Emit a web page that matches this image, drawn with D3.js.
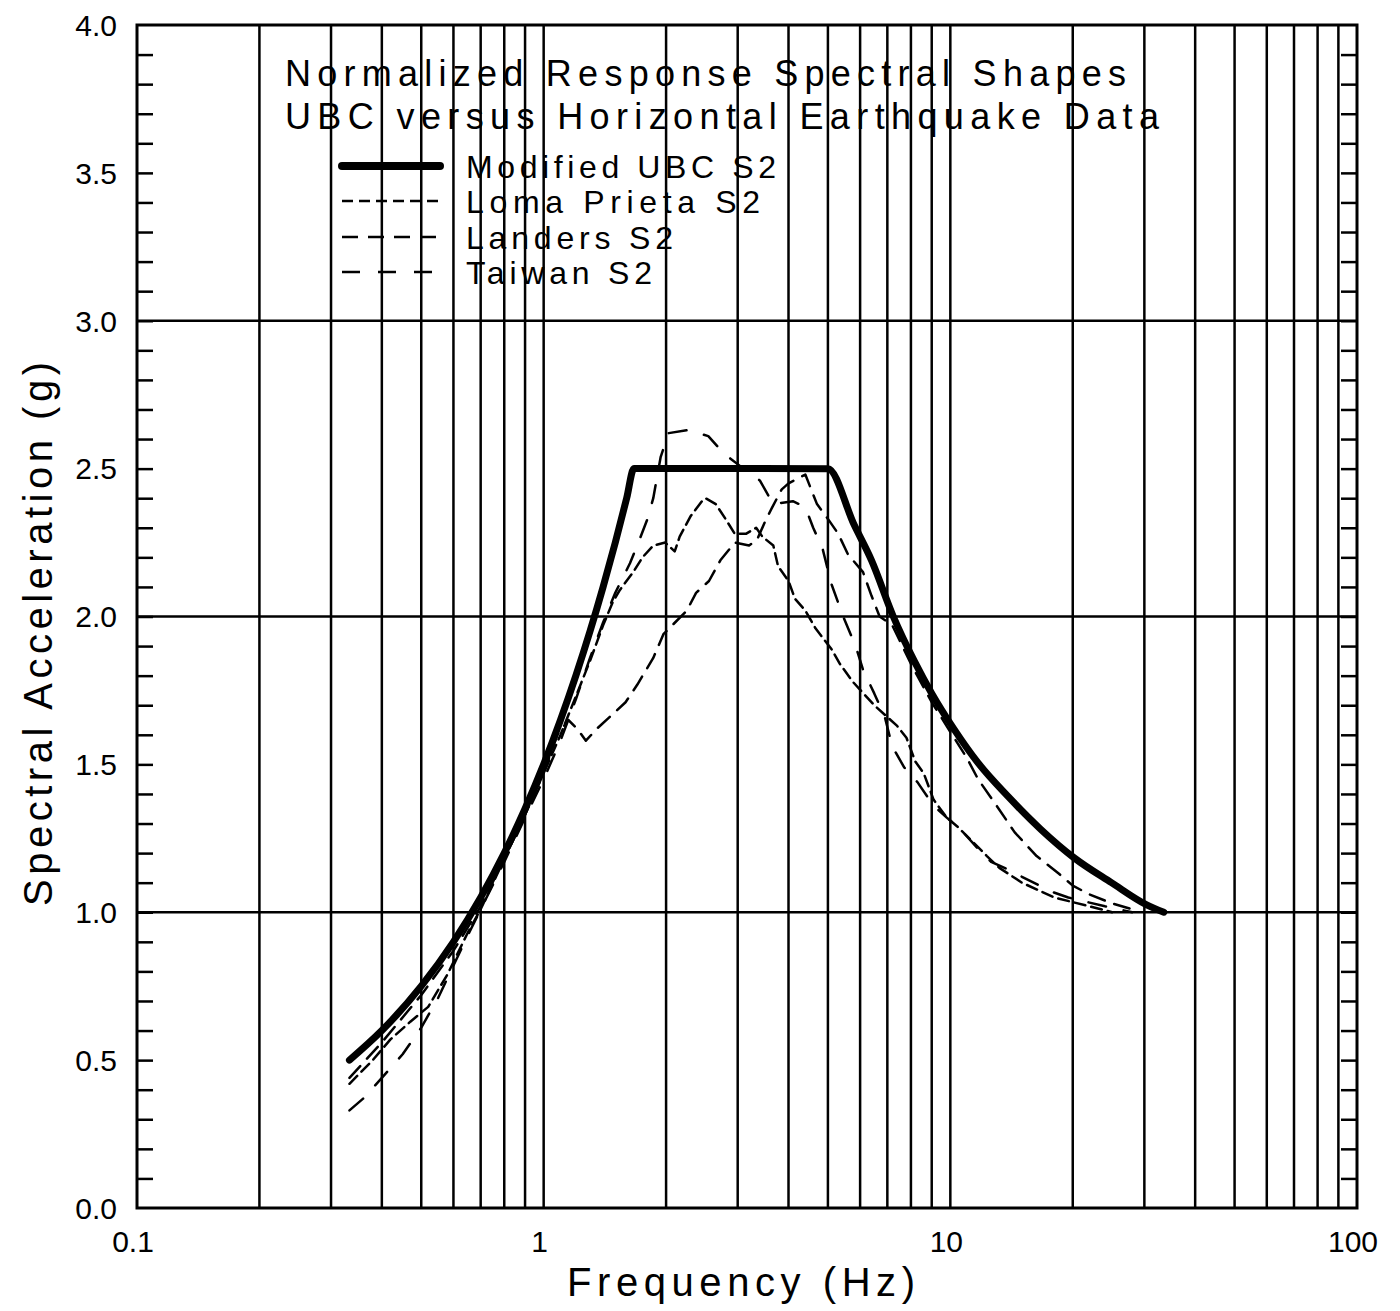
<!DOCTYPE html>
<html>
<head>
<meta charset="utf-8">
<script src="https://cdn.jsdelivr.net/npm/d3@7"></script>
<style>
  body { margin: 0; background: #fff; }
  text { font-family: "Liberation Sans", "DejaVu Sans", sans-serif; fill: #000; }
</style>
</head>
<body>
<div id="chart"></div>
<script>
//Chart data: [frequency (Hz), spectral acceleration (g)]
var ubc = [[0.333,0.5],[0.4,0.6],[0.5,0.75],[0.6,0.9],[0.7,1.05],[0.8,1.2],[0.9,1.35],[1.0,1.5],
  [1.1,1.65],[1.2,1.8],[1.3,1.95],[1.4,2.1],[1.5,2.25],[1.6,2.4],[1.667,2.5],[5.0,2.5],[5.8,2.31],
  [6.4,2.19],[7.24,2.0],[8.15,1.85],[9.0,1.74],[10.2,1.62],[11.7,1.505],[13.9,1.39],[16.7,1.28],
  [20.2,1.183],[24.9,1.1],[30.4,1.025],[33.5,1.0]];

var lomaPrieta = [[0.333,0.42],[0.38,0.5],[0.42,0.57],[0.47,0.63],[0.52,0.68],[0.58,0.79],[0.65,0.93],
  [0.7,1.01],[0.8,1.18],[0.9,1.33],[1.0,1.47],[1.1,1.6],[1.2,1.73],[1.3,1.85],[1.4,1.97],[1.48,2.05],
  [1.54,2.09],[1.66,2.15],[1.75,2.2],[1.86,2.24],[1.99,2.25],[2.1,2.22],[2.16,2.27],[2.3,2.34],
  [2.45,2.39],[2.5,2.4],[2.65,2.38],[2.8,2.33],[2.95,2.28],[3.15,2.28],[3.33,2.3],[3.45,2.27],
  [3.67,2.24],[3.77,2.17],[4.0,2.12],[4.15,2.06],[4.4,2.02],[4.66,1.96],[5.1,1.89],[5.35,1.84],
  [5.75,1.78],[6.5,1.7],[7.4,1.63],[7.8,1.59],[8.2,1.51],[8.6,1.47],[9.1,1.38],[9.8,1.32],
  [10.4,1.29],[11.7,1.22],[12.3,1.19],[13.2,1.15],[15.0,1.1],[18.0,1.05],[22.0,1.02],[25.0,1.0]];

var landers = [[0.333,0.44],[0.4,0.56],[0.5,0.72],[0.6,0.87],[0.7,1.02],[0.8,1.18],[0.9,1.33],
  [1.0,1.47],[1.08,1.6],[1.15,1.65],[1.21,1.62],[1.27,1.58],[1.35,1.62],[1.48,1.67],[1.59,1.71],
  [1.7,1.77],[1.86,1.86],[1.97,1.94],[2.07,1.97],[2.25,2.02],[2.37,2.08],[2.55,2.12],[2.72,2.19],
  [2.95,2.25],[3.2,2.24],[3.35,2.26],[3.5,2.32],[3.65,2.37],[3.85,2.43],[4.0,2.45],[4.4,2.48],
  [4.7,2.38],[5.0,2.33],[5.3,2.28],[5.6,2.21],[6.1,2.15],[6.4,2.07],[6.7,2.0],[7.2,1.97],[7.5,1.92],
  [8.0,1.84],[9.0,1.71],[10.0,1.61],[11.0,1.52],[11.7,1.45],[13.0,1.36],[14.4,1.27],[16.3,1.19],
  [18.5,1.13],[20.0,1.09],[22.0,1.06],[25.0,1.03],[28.0,1.01]];

var taiwan = [[0.333,0.33],[0.36,0.37],[0.4,0.44],[0.45,0.52],[0.5,0.61],[0.55,0.71],[0.6,0.82],
  [0.65,0.92],[0.7,1.01],[0.8,1.17],[0.9,1.32],[1.0,1.45],[1.1,1.58],[1.2,1.72],[1.3,1.86],[1.4,1.98],
  [1.5,2.08],[1.63,2.18],[1.71,2.25],[1.8,2.33],[1.86,2.4],[1.94,2.54],[2.03,2.62],[2.26,2.63],
  [2.54,2.61],[2.78,2.55],[3.1,2.5],[3.4,2.46],[3.67,2.38],[4.1,2.39],[4.4,2.37],[4.6,2.3],
  [4.85,2.23],[5.1,2.11],[5.45,2.0],[5.85,1.9],[6.1,1.82],[6.5,1.74],[6.9,1.66],[7.2,1.56],
  [7.7,1.49],[8.3,1.44],[9.1,1.36],[9.8,1.32],[10.6,1.28],[11.6,1.22],[12.6,1.17],[14.1,1.14],
  [15.0,1.12],[17.7,1.07],[19.5,1.05],[24.0,1.02],[28.0,1.0]];

//Tick labels
var xTicks = [0.1, 1, 10, 100];
var xTickLabels = ["0.1", "1", "10", "100"];
var yTicks = [0, 0.5, 1, 1.5, 2, 2.5, 3, 3.5, 4];
var yTickLabels = ["0.0", "0.5", "1.0", "1.5", "2.0", "2.5", "3.0", "3.5", "4.0"];
var yGrid = [1, 2, 3];

var titleLines = ["Normalized Response Spectral Shapes", "UBC versus Horizontal Earthquake Data"];
var legendNames = ["Modified UBC S2", "Loma Prieta S2", "Landers S2", "Taiwan S2"];

//Chart dimensions
var W = 1400, H = 1311;
var margin = { top: 25, right: 43, bottom: 103, left: 137 },
  width = W - margin.left - margin.right,
  height = H - margin.top - margin.bottom;

var svg = d3.select("#chart").append("svg")
  .attr("width", W).attr("height", H);
var g = svg.append("g")
  .attr("transform", "translate(" + margin.left + "," + margin.top + ")");

var x = d3.scaleLog().domain([0.1, 100]).range([0, width]);
var y = d3.scaleLinear().domain([0, 4]).range([height, 0]);

// vertical grid lines at every log tick
g.append("g").selectAll("line")
  .data(x.ticks().filter(function (t) { return t > 0.1 && t < 100; }))
  .enter().append("line")
  .attr("x1", function (d) { return x(d); })
  .attr("x2", function (d) { return x(d); })
  .attr("y1", 0).attr("y2", height)
  .attr("stroke", "#000").attr("stroke-width", 2.5);

// horizontal grid lines
g.append("g").selectAll("line")
  .data(yGrid).enter().append("line")
  .attr("x1", 0).attr("x2", width)
  .attr("y1", function (d) { return y(d); })
  .attr("y2", function (d) { return y(d); })
  .attr("stroke", "#000").attr("stroke-width", 2.5);

// inward minor ticks on left and right, every 0.1
var minor = d3.range(1, 40).map(function (i) { return i / 10; });
g.append("g").call(d3.axisRight(y).tickValues(minor).tickSize(16).tickFormat(""))
  .call(function (s) { s.select(".domain").remove(); })
  .selectAll("line").attr("stroke-width", 2.5);
g.append("g").attr("transform", "translate(" + width + ",0)")
  .call(d3.axisLeft(y).tickValues(minor).tickSize(16).tickFormat(""))
  .call(function (s) { s.select(".domain").remove(); })
  .selectAll("line").attr("stroke-width", 2.5);

// frame
g.append("rect")
  .attr("width", width).attr("height", height)
  .attr("fill", "none").attr("stroke", "#000").attr("stroke-width", 3);

// tick labels
g.append("g").selectAll("text")
  .data(yTicks).enter().append("text")
  .attr("x", -20)
  .attr("y", function (d) { return y(d); })
  .attr("dy", "0.36em")
  .attr("text-anchor", "end")
  .style("font-size", "30px")
  .text(function (d, i) { return yTickLabels[i]; });

g.append("g").selectAll("text")
  .data(xTicks).enter().append("text")
  .attr("x", function (d) { return x(d) - 4; })
  .attr("y", height + 44)
  .attr("text-anchor", "middle")
  .style("font-size", "30px")
  .text(function (d, i) { return xTickLabels[i]; });

// axis titles
svg.append("text")
  .attr("x", 567).attr("y", 1296)
  .attr("textLength", 348).attr("lengthAdjust", "spacing")
  .style("font-size", "40px")
  .text("Frequency (Hz)");

svg.append("text")
  .attr("transform", "translate(52,906) rotate(-90)")
  .attr("textLength", 544).attr("lengthAdjust", "spacing")
  .style("font-size", "40px")
  .text("Spectral Acceleration (g)");

// curves
var line = d3.line()
  .x(function (d) { return x(d[0]) + margin.left; })
  .y(function (d) { return y(d[1]) + margin.top; });

var series = [
  { data: ubc, width: 7, dash: null, curve: d3.curveMonotoneX },
  { data: lomaPrieta, width: 2.5, dash: "11,6", curve: d3.curveLinear },
  { data: landers, width: 2.5, dash: "16,10", curve: d3.curveLinear },
  { data: taiwan, width: 2.5, dash: "18,18", curve: d3.curveLinear }
];

series.forEach(function (s) {
  svg.append("path")
    .datum(s.data)
    .attr("d", line.curve(s.curve))
    .attr("fill", "none")
    .attr("stroke", "#000")
    .attr("stroke-width", s.width)
    .attr("stroke-linejoin", "round")
    .attr("stroke-linecap", "round")
    .attr("stroke-dasharray", s.dash);
});

// title
var titleEnds = [1126, 1159];
titleLines.forEach(function (t, i) {
  svg.append("text")
    .attr("x", 285).attr("y", 86 + i * 43)
    .attr("textLength", titleEnds[i] - 285).attr("lengthAdjust", "spacing")
    .style("font-size", "36px")
    .text(t);
});

// legend
var legendEnds = [776, 760, 673, 652];
var legendY = [166, 201, 237, 272];
legendNames.forEach(function (name, i) {
  var s = series[i];
  svg.append("line")
    .attr("x1", 342).attr("x2", 440)
    .attr("y1", legendY[i]).attr("y2", legendY[i])
    .attr("stroke", "#000")
    .attr("stroke-width", i === 0 ? 8 : 2.5)
    .attr("stroke-linecap", i === 0 ? "round" : "butt")
    .attr("stroke-dasharray", s.dash);
  svg.append("text")
    .attr("x", 466).attr("y", legendY[i] + 12)
    .attr("textLength", legendEnds[i] - 466).attr("lengthAdjust", "spacing")
    .style("font-size", "32px")
    .text(name);
});
</script>
</body>
</html>
